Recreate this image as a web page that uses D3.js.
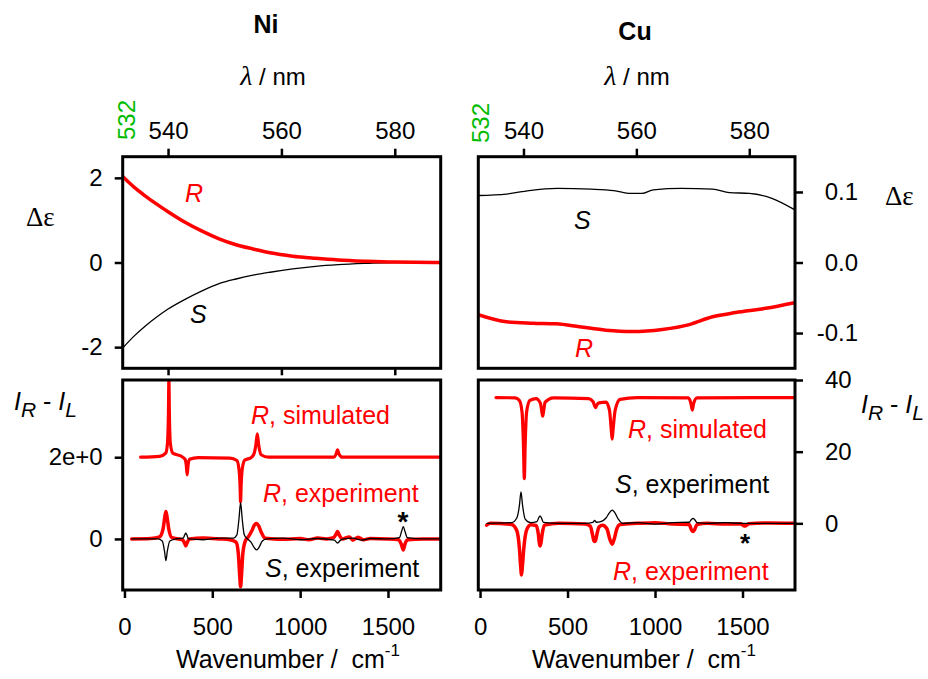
<!DOCTYPE html>
<html>
<head>
<meta charset="utf-8">
<script src="https://cdn.jsdelivr.net/npm/d3@7"></script>
<style>
  body { margin: 0; background: #fff; }
</style>
</head>
<body>
<script>
// ---- Data ----

// Top panels: CD spectra, wavelength in nm
const niLambda = [532, 534, 536, 538, 540, 543, 546, 549, 552, 555, 558, 562, 566, 570, 575, 580, 588];
const niDeltaR = [2.03, 1.78, 1.57, 1.38, 1.2, 0.95, 0.74, 0.56, 0.42, 0.32, 0.23, 0.15, 0.1, 0.06, 0.03, 0.01, 0];
const niDeltaS = [-2.02, -1.74, -1.5, -1.29, -1.1, -0.87, -0.67, -0.5, -0.39, -0.3, -0.23, -0.15, -0.09, -0.05, -0.02, 0, 0];

const cuLambdaS = [532, 537, 541, 546, 552, 556, 559, 561, 563, 568, 573.5, 576.5, 580, 584, 588];
const cuDeltaS = [0.095, 0.097, 0.102, 0.105, 0.104, 0.102, 0.098, 0.098, 0.103, 0.105, 0.104, 0.099, 0.098, 0.091, 0.075];
const cuLambdaR = [532, 537, 541.7, 545.8, 549.9, 554.6, 559.3, 564.6, 569.4, 573.5, 577.6, 582.9, 588];
const cuDeltaR = [-0.074, -0.084, -0.086, -0.087, -0.091, -0.096, -0.098, -0.095, -0.088, -0.077, -0.071, -0.065, -0.057];

// Bottom panels: ROA spectra, [wavenumber cm-1, IR - IL]
const niSimR = [[92, 2.0], [200, 2.02], [235, 2.1], [245, 2.35], [250, 3.0], [253, 3.9], [256, 3.0], [261, 2.35],
  [275, 2.1], [320, 2.03], [345, 1.95], [352, 1.8], [357, 1.57], [362, 1.8], [370, 1.95], [420, 1.99], [600, 1.98],
  [640, 1.92], [652, 1.7], [658, 1.3], [661, 0.9], [664, 1.3], [670, 1.7], [685, 1.93], [720, 1.99], [735, 2.06],
  [748, 2.3], [756, 2.57], [764, 2.3], [778, 2.06], [820, 2.0], [1190, 2.0], [1205, 2.08], [1213, 2.18],
  [1221, 2.08], [1240, 2.0], [1800, 2.0]];
const niExpR = [[41, 0], [150, 0.01], [200, 0.05], [220, 0.25], [230, 0.55], [236, 0.67], [242, 0.55], [252, 0.25],
  [270, 0.03], [330, -0.02], [342, -0.1], [349, -0.17], [356, -0.1], [370, 0], [450, 0.02], [540, 0], [600, -0.02],
  [635, -0.08], [648, -0.35], [656, -0.9], [661, -1.17], [666, -0.9], [674, -0.35], [688, -0.05], [705, 0.05],
  [725, 0.2], [740, 0.34], [752, 0.38], [764, 0.32], [780, 0.15], [800, 0.02], [850, 0], [900, -0.01], [1000, 0.01],
  [1050, -0.02], [1100, 0.02], [1150, 0], [1190, 0.03], [1205, 0.12], [1213, 0.18], [1222, 0.1], [1240, 0],
  [1280, 0.05], [1300, -0.03], [1330, 0.04], [1360, -0.02], [1400, 0.01], [1500, 0], [1560, -0.02], [1575, -0.12],
  [1587, -0.27], [1597, -0.12], [1612, -0.02], [1700, 0], [1800, 0]];
const niExpS = [[41, 0], [190, 0], [215, -0.05], [228, -0.3], [236, -0.53], [244, -0.3], [258, -0.05], [290, 0],
  [335, 0.02], [343, 0.1], [349, 0.14], [355, 0.1], [365, 0], [450, -0.02], [540, 0.02], [620, 0.02], [640, 0.1],
  [652, 0.5], [661, 0.89], [670, 0.5], [682, 0.1], [700, 0], [720, -0.08], [740, -0.22], [752, -0.27], [764, -0.22],
  [785, -0.05], [810, 0], [900, 0.02], [1000, -0.02], [1100, 0.01], [1195, -0.03], [1213, -0.1], [1230, -0.03],
  [1250, 0], [1300, 0.02], [1350, -0.03], [1400, 0.01], [1500, 0], [1565, 0.03], [1577, 0.18], [1587, 0.3],
  [1597, 0.18], [1610, 0.03], [1700, 0], [1800, 0]];

const cuSimR = [[91, 35.1], [200, 35.0], [225, 34.3], [240, 31], [248, 22], [253, 12.5], [258, 22], [266, 31],
  [285, 34.3], [320, 34.8], [345, 33.5], [352, 31.5], [358, 29.9], [364, 31.5], [372, 33.8], [420, 35], [620, 34.8],
  [645, 34], [655, 32.8], [660, 32.3], [665, 32.8], [680, 33.6], [720, 33.8], [740, 31.5], [750, 26], [755, 23.5],
  [760, 26], [772, 31.5], [800, 34.6], [900, 35.1], [1190, 35], [1205, 33.5], [1213, 31.6], [1221, 33.5],
  [1240, 35], [1800, 35.1]];
const cuExpS = [[40, 0], [180, 0.2], [210, 1.5], [225, 5], [234, 8.8], [243, 5], [258, 1.2], [290, 0.2], [325, 0.5],
  [336, 1.6], [343, 2.1], [350, 1.6], [362, 0.3], [450, 0], [600, 0], [645, 0.3], [655, 0.8], [665, 0.3], [690, 0.5],
  [720, 1.5], [740, 3], [755, 3.7], [770, 3], [790, 1.2], [815, 0], [900, 0.2], [1000, -0.2], [1100, 0.2],
  [1195, 0.3], [1208, 1.1], [1217, 1.4], [1226, 1.1], [1240, 0.2], [1300, 0], [1400, 0.2], [1500, 0], [1800, 0]];
const cuExpR = [[38, -0.5], [60, 0], [180, -0.3], [210, -2], [225, -7], [232, -12], [237, -14.4], [242, -12],
  [250, -7], [265, -2], [290, -0.4], [320, -0.6], [333, -3], [339, -5.5], [343, -6.3], [348, -5.5], [355, -3],
  [368, -0.5], [450, 0], [600, -0.2], [630, -0.8], [642, -3], [650, -4.8], [655, -5.1], [660, -4.8], [668, -3],
  [680, -1], [700, -0.5], [725, -1.5], [742, -4.5], [755, -5.8], [766, -4.5], [782, -1.5], [800, -0.3], [900, 0],
  [1000, 0.2], [1100, -0.2], [1195, -0.3], [1208, -1.8], [1217, -2.3], [1226, -1.8], [1240, -0.3], [1300, 0],
  [1400, -0.2], [1490, -0.1], [1505, -0.6], [1513, -0.75], [1521, -0.6], [1535, -0.1], [1650, 0.1], [1800, 0]];

// Tick values
const lambdaTicks = [540, 560, 580];
const nuTicks = [0, 500, 1000, 1500];
const niDeltaTicks = [-2, 0, 2];
const cuDeltaTicks = [-0.1, 0, 0.1];
const niRamanTicks = [0, 2];
const cuRamanTicks = [0, 20, 40];

// ---- Layout ----
const w = 928;
const h = 679;
const red = '#ff0000';
const green = '#00bb00';
const sans = "'Liberation Sans', Arial, sans-serif";
const serif = "'Liberation Serif', 'Times New Roman', serif";

const colL = [122.7, 440.7];
const colR = [478.3, 795];
const rowTop = [156.7, 368.3];
const rowBot = [380, 590];

const svg = d3.select('body').append('svg')
  .attr('width', w)
  .attr('height', h)
  .attr('font-family', sans);

// Scales
const xLamL = d3.scaleLinear().domain([532, 588.1]).range(colL);
const xLamR = d3.scaleLinear().domain([532, 588.1]).range(colR);
const xNuL = d3.scaleLinear().domain([-10, 1800]).range(colL);
const xNuR = d3.scaleLinear().domain([-10, 1800]).range(colR);
const yNiDelta = d3.scaleLinear().domain([-2.5, 2.5]).range([rowTop[1], rowTop[0]]);
const yCuDelta = d3.scaleLinear().domain([-0.15, 0.15]).range([rowTop[1], rowTop[0]]);
const yNiRaman = d3.scaleLinear().domain([-1.25, 3.89]).range([rowBot[1], rowBot[0]]);
const yCuRaman = d3.scaleLinear().domain([-18.6, 40]).range([rowBot[1], rowBot[0]]);

// plain hyphen for negative numbers, like the original
const fmt = spec => {
  const f = d3.format(spec);
  return d => f(d).replace('\u2212', '-');
};

// Clip each panel to its frame
const defs = svg.append('defs');
const panel = (id, cols, rows) => {
  defs.append('clipPath').attr('id', id).append('rect')
    .attr('x', cols[0]).attr('y', rows[0])
    .attr('width', cols[1] - cols[0]).attr('height', rows[1] - rows[0]);
  return svg.append('g').attr('clip-path', `url(#${id})`);
};

const drawLine = (g, data, x, y, color, width) => {
  g.append('path')
    .datum(data)
    .attr('d', d3.line().x(d => x(d[0])).y(d => y(d[1])).curve(d3.curveMonotoneX))
    .attr('fill', 'none')
    .attr('stroke', color)
    .attr('stroke-width', width)
    .attr('stroke-linejoin', 'round')
    .attr('stroke-linecap', 'round');
};

const zipXY = (xs, ys) => xs.map((v, i) => [v, ys[i]]);

// Top-left: Ni
const gNiTop = panel('clipNiTop', colL, rowTop);
drawLine(gNiTop, zipXY(niLambda, niDeltaS), xLamL, yNiDelta, '#000', 1.3);
drawLine(gNiTop, zipXY(niLambda, niDeltaR), xLamL, yNiDelta, red, 3.5);

// Top-right: Cu
const gCuTop = panel('clipCuTop', colR, rowTop);
drawLine(gCuTop, zipXY(cuLambdaS, cuDeltaS), xLamR, yCuDelta, '#000', 1.3);
drawLine(gCuTop, zipXY(cuLambdaR, cuDeltaR), xLamR, yCuDelta, red, 3.5);

// Bottom-left: Ni ROA
const gNiBot = panel('clipNiBot', colL, rowBot);
drawLine(gNiBot, niSimR, xNuL, yNiRaman, red, 3.2);
drawLine(gNiBot, niExpR, xNuL, yNiRaman, red, 3.5);
drawLine(gNiBot, niExpS, xNuL, yNiRaman, '#000', 1.3);

// Bottom-right: Cu ROA
const gCuBot = panel('clipCuBot', colR, rowBot);
drawLine(gCuBot, cuSimR, xNuR, yCuRaman, red, 3.2);
drawLine(gCuBot, cuExpR, xNuR, yCuRaman, red, 3.5);
drawLine(gCuBot, cuExpS, xNuR, yCuRaman, '#000', 1.3);

// Frames
[[colL, rowTop], [colR, rowTop], [colL, rowBot], [colR, rowBot]].forEach(([c, r]) => {
  svg.append('rect')
    .attr('x', c[0]).attr('y', r[0])
    .attr('width', c[1] - c[0]).attr('height', r[1] - r[0])
    .attr('fill', 'none').attr('stroke', '#000').attr('stroke-width', 3);
});

// Axes
const styleAxis = g => {
  g.attr('font-family', sans).attr('font-size', 24);
  g.select('.domain').remove();
  g.selectAll('.tick line').attr('stroke', '#000').attr('stroke-width', 2.5);
  g.selectAll('.tick text').attr('fill', '#000');
};

const addAxis = (axis, tx, ty) =>
  svg.append('g').attr('transform', `translate(${tx},${ty})`).call(axis).call(styleAxis);

// wavelength axes on top
addAxis(d3.axisTop(xLamL).tickValues(lambdaTicks).tickSize(8).tickPadding(10).tickFormat(fmt('d')), 0, rowTop[0]);
addAxis(d3.axisTop(xLamR).tickValues(lambdaTicks).tickSize(8).tickPadding(10).tickFormat(fmt('d')), 0, rowTop[0]);
addAxis(d3.axisBottom(xLamL).tickValues(lambdaTicks).tickSize(7).tickFormat(''), 0, rowTop[1]);

// delta epsilon axes
addAxis(d3.axisLeft(yNiDelta).tickValues(niDeltaTicks).tickSize(8).tickPadding(12).tickFormat(fmt('d')), colL[0], 0);
const cuDeltaAxis = addAxis(d3.axisRight(yCuDelta).tickValues(cuDeltaTicks).tickSize(8).tickPadding(22)
  .tickFormat(fmt('.1f')), colR[1], 0);
cuDeltaAxis.selectAll('.tick text').attr('text-anchor', 'end').attr('x', 63);

// ROA intensity axes
addAxis(d3.axisLeft(yNiRaman).tickValues(niRamanTicks).tickSize(8).tickPadding(12)
  .tickFormat(d => (d === 0 ? '0' : '2e+0')), colL[0], 0);
addAxis(d3.axisRight(yCuRaman).tickValues(cuRamanTicks).tickSize(8).tickPadding(22).tickFormat(fmt('d')), colR[1], 0);

// wavenumber axes
addAxis(d3.axisBottom(xNuL).tickValues(nuTicks).tickSize(8).tickPadding(20).tickFormat(fmt('d')), 0, rowBot[1]);
addAxis(d3.axisBottom(xNuR).tickValues(nuTicks).tickSize(8).tickPadding(20).tickFormat(fmt('d')), 0, rowBot[1]);

// ---- Texts ----
const text = (x, y, size) =>
  svg.append('text').attr('x', x).attr('y', y).attr('font-size', size);

// panel titles
text(266, 33, 25).attr('text-anchor', 'middle').attr('font-weight', 'bold').text('Ni');
text(635, 40, 25).attr('text-anchor', 'middle').attr('font-weight', 'bold').text('Cu');

// lambda / nm
const lambdaTitle = cx => {
  const t = text(cx, 85, 24).attr('text-anchor', 'middle');
  t.append('tspan').attr('font-family', serif)
    .attr('font-style', 'italic').attr('font-size', 28).text('λ');
  t.append('tspan').text(' / nm');
};
lambdaTitle(273);
lambdaTitle(637);

// green excitation wavelength
[[135, 120], [489, 123]].forEach(([x, y]) => {
  svg.append('text')
    .attr('transform', `translate(${x},${y}) rotate(-90)`)
    .attr('text-anchor', 'middle')
    .attr('font-size', 24)
    .attr('fill', green)
    .text('532');
});

// delta epsilon labels
[[26, 226], [885, 205]].forEach(([x, y]) => {
  text(x, y, 27).attr('font-family', serif).text('Δε');
});

// IR - IL labels
const irilLabel = (x, y) => {
  const t = text(x, y, 25);
  t.append('tspan').attr('font-style', 'italic').text('I');
  t.append('tspan').attr('font-style', 'italic').attr('font-size', 21).attr('dy', 7).text('R');
  t.append('tspan').attr('dy', -7).text(' - ');
  t.append('tspan').attr('font-style', 'italic').text('I');
  t.append('tspan').attr('font-style', 'italic').attr('font-size', 21).attr('dy', 7).text('L');
};
irilLabel(14, 410);
irilLabel(861, 413);

// wavenumber titles
const nuTitle = cx => {
  const t = text(cx, 668, 25).attr('text-anchor', 'middle').style('white-space', 'pre');
  t.append('tspan').text('Wavenumber /  cm');
  t.append('tspan').attr('font-size', 17).attr('dy', -12).text('-1');
};
nuTitle(288);
nuTitle(644);

// curve labels
const curveLabel = (x, y, name, rest, color, size = 25) => {
  const t = text(x, y, size).attr('fill', color);
  t.append('tspan').attr('font-style', 'italic').text(name);
  if (rest) t.append('tspan').text(rest);
};
curveLabel(185, 202, 'R', '', red);
curveLabel(190, 323, 'S', '', '#000');
curveLabel(574, 229, 'S', '', '#000');
curveLabel(575, 357, 'R', '', red);

curveLabel(251, 424, 'R', ', simulated', red);
curveLabel(263, 502, 'R', ', experiment', red);
curveLabel(265, 577, 'S', ', experiment', '#000');

curveLabel(628, 438, 'R', ', simulated', red);
curveLabel(615, 493, 'S', ', experiment', '#000');
curveLabel(613, 580, 'R', ', experiment', red);

// asterisks marking an artefact band
text(403, 531, 28).attr('text-anchor', 'middle').attr('font-weight', 'bold').text('*');
text(745, 552, 26).attr('text-anchor', 'middle').attr('font-weight', 'bold').text('*');
</script>
</body>
</html>
